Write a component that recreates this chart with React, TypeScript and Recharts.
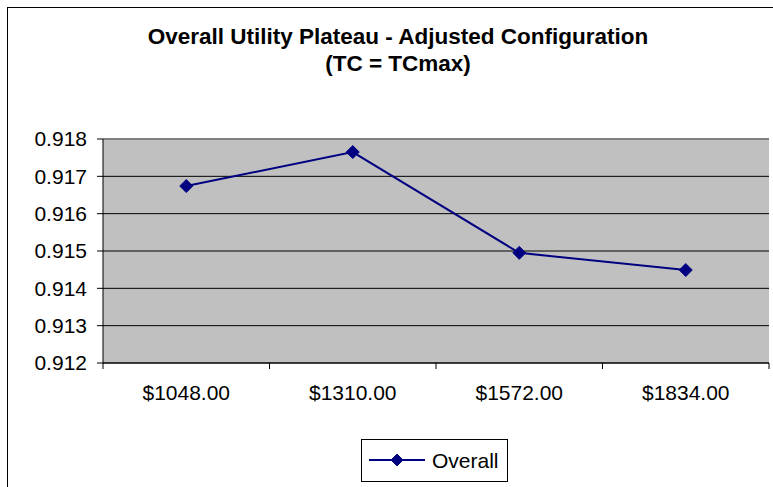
import React from 'react'
import { LineChart, Line, XAxis, YAxis, CartesianGrid } from 'recharts'

const prices = ['$1048.00', '$1310.00', '$1572.00', '$1834.00']
const overall = [0.91674, 0.91765, 0.91495, 0.91449]
const yTicks = [0.912, 0.913, 0.914, 0.915, 0.916, 0.917, 0.918]

const data = prices.map((p, i) => ({ price: p, overall: overall[i] }))

const FONT = '"Liberation Sans", Arial, sans-serif'
const NAVY = '#000080'
const BAND = (769 - 103) / prices.length

function Diamond({ cx, cy, r = 6.5 }: { cx: number; cy: number; r?: number }) {
  return <path d={`M${cx},${cy - r} L${cx + r},${cy} L${cx},${cy + r} L${cx - r},${cy} Z`} fill={NAVY} stroke={NAVY} />
}

function PriceTick(props: any) {
  const { x, y, payload, index } = props
  return (
    <g>
      <line x1={x - BAND / 2} y1={y - 6} x2={x - BAND / 2} y2={y} stroke="#000" />
      {index === prices.length - 1 && <line x1={x + BAND / 2} y1={y - 6} x2={x + BAND / 2} y2={y} stroke="#000" />}
      <text x={x} y={y + 31} textAnchor="middle" fontSize={21} fontFamily={FONT} fill="#000">
        {payload.value}
      </text>
    </g>
  )
}

function gridLine(p: any) {
  const top = p.y1 < 141
  return (
    <line
      key={`h-${p.index}`}
      x1={p.x1}
      y1={p.y1}
      x2={p.x2}
      y2={p.y2}
      stroke={top ? '#808080' : '#000'}
      strokeWidth={top ? 2 : 1}
    />
  )
}

function LegendBox() {
  return (
    <div
      style={{
        position: 'absolute',
        left: 361,
        top: 439,
        width: 147,
        height: 43,
        border: '1px solid #000',
        boxSizing: 'border-box',
        background: '#fff',
      }}
    >
      <svg width={145} height={41} style={{ display: 'block' }}>
        <line x1={7} y1={20} x2={63} y2={20} stroke={NAVY} strokeWidth={2} />
        <Diamond cx={35} cy={20} r={6} />
        <text x={70} y={28} fontSize={21} fontFamily={FONT} fill="#000">Overall</text>
      </svg>
    </div>
  )
}

export default function App() {
  return (
    <div style={{ position: 'absolute', left: 0, top: 0, width: 773, height: 487, overflow: 'hidden', background: '#fff' }}>
      <div style={{ position: 'absolute', left: 7, top: 7, width: 800, height: 520, border: '1px solid #000' }} />
      <div
        style={{
          position: 'absolute',
          left: 0,
          top: 23,
          width: 796,
          textAlign: 'center',
          fontFamily: FONT,
          fontWeight: 'bold',
          fontSize: 22.5,
          lineHeight: '27px',
          color: '#000',
        }}
      >
        Overall Utility Plateau - Adjusted Configuration
        <br />
        (TC = TCmax)
      </div>
      <div style={{ position: 'absolute', left: 0, top: 0 }}>
        <LineChart width={773} height={487} data={data} margin={{ top: 139, right: 4, bottom: 84, left: 0 }}>
          <CartesianGrid vertical={false} horizontal={gridLine} fill="#C0C0C0" fillOpacity={1} />
          <XAxis
            dataKey="price"
            scale="band"
            height={40}
            axisLine={{ stroke: '#000' }}
            tickLine={false}
            tickSize={6}
            tickMargin={0}
            tick={<PriceTick />}
            interval={0}
          />
          <YAxis
            domain={[0.912, 0.918]}
            ticks={yTicks}
            width={103}
            tickFormatter={(v: number) => v.toFixed(3)}
            axisLine={{ stroke: '#000' }}
            tickLine={{ stroke: '#000' }}
            tickSize={6}
            tickMargin={10}
            tick={{ fontSize: 21, fontFamily: FONT, fill: '#000' }}
            interval={0}
          />
          <YAxis
            yAxisId="right"
            orientation="right"
            width={0}
            domain={[0, 1]}
            tick={false}
            tickLine={false}
            axisLine={{ stroke: '#808080', strokeWidth: 2 }}
          />
          <Line
            type="linear"
            dataKey="overall"
            name="Overall"
            stroke={NAVY}
            strokeWidth={2}
            dot={(p: any) => <Diamond key={`d-${p.index}`} cx={p.cx} cy={p.cy} />}
            activeDot={false}
            isAnimationActive={false}
          />
        </LineChart>
      </div>
      <LegendBox />
    </div>
  )
}
